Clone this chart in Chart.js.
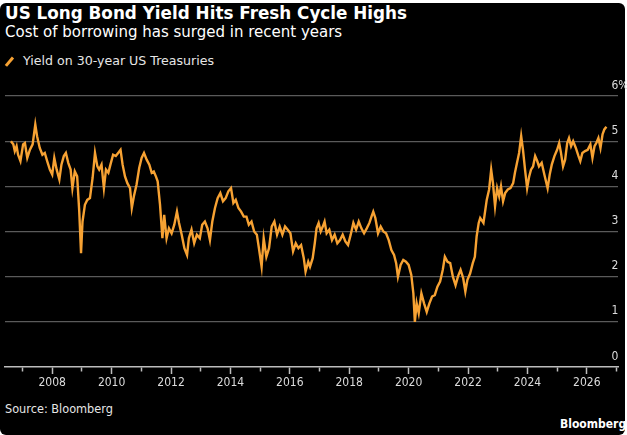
<!DOCTYPE html>
<html>
<head>
<meta charset="utf-8">
<title>US Long Bond Yield Hits Fresh Cycle Highs</title>
<script src="https://cdn.jsdelivr.net/npm/chart.js@4.4.1/dist/chart.umd.min.js"></script>
<style>
  html, body { margin: 0; padding: 0; background: #fff; width: 627px; height: 435px; overflow: hidden; }
  body { position: relative; font-family: "DejaVu Sans", sans-serif; }
  #card { position: absolute; left: 0; top: 3px; width: 625px; height: 432px; background: #000; border-radius: 6px; }
  .txt { position: absolute; white-space: nowrap; }
  #title { left: 5px; top: 3px; font-size: 16.8px; font-weight: bold; color: #fff; }
  #subtitle { left: 5px; top: 23px; font-size: 15px; color: #fff; }
  #legend { left: 23px; top: 53px; font-size: 12.6px; color: #e6e6e6; }
  #swatch { position: absolute; left: 8px; top: 56px; width: 2.6px; height: 11px; background: #f7a233; transform: rotate(40deg); }
  #source { left: 5px; top: 401px; font-size: 12.6px; color: #e6e6e6; font-family: "DejaVu Sans Condensed", "DejaVu Sans", sans-serif; }
  #brand { left: 560px; top: 417px; font-size: 12px; font-weight: bold; color: #fff; font-family: "DejaVu Sans Condensed", "DejaVu Sans", sans-serif; }
  #c { position: absolute; left: 0; top: 0; }
</style>
</head>
<body>
<div id="card"></div>
<div class="txt" id="title">US Long Bond Yield Hits Fresh Cycle Highs</div>
<div class="txt" id="subtitle">Cost of borrowing has surged in recent years</div>
<div id="swatch"></div>
<div class="txt" id="legend">Yield on 30-year US Treasuries</div>
<div class="txt" id="source">Source: Bloomberg</div>
<div class="txt" id="brand">Bloomberg</div>
<canvas id="c" width="627" height="435" style="width:627px;height:435px"></canvas>
<script>
// dates as decimal years
var years = [
  2006.61, 2006.69, 2006.74, 2006.80, 2006.85, 2006.93, 2007.02, 2007.08, 2007.16, 2007.25,
  2007.34, 2007.43, 2007.49, 2007.58, 2007.67, 2007.75, 2007.83, 2007.92, 2008.00, 2008.07,
  2008.15, 2008.24, 2008.31, 2008.39, 2008.46, 2008.54, 2008.62, 2008.68, 2008.76, 2008.84,
  2008.91, 2008.97, 2009.02, 2009.10, 2009.18, 2009.27, 2009.36, 2009.44, 2009.52, 2009.58,
  2009.66, 2009.74, 2009.81, 2009.89, 2009.96, 2010.05, 2010.14, 2010.22, 2010.30, 2010.37,
  2010.45, 2010.53, 2010.62, 2010.68, 2010.75, 2010.84, 2010.93, 2011.01, 2011.09, 2011.18,
  2011.27, 2011.35, 2011.42, 2011.49, 2011.55, 2011.63, 2011.71, 2011.77, 2011.85, 2011.93,
  2012.02, 2012.11, 2012.20, 2012.27, 2012.36, 2012.45, 2012.54, 2012.60, 2012.69, 2012.78,
  2012.87, 2012.97, 2013.05, 2013.14, 2013.23, 2013.31, 2013.39, 2013.48, 2013.57, 2013.66,
  2013.75, 2013.84, 2013.93, 2014.02, 2014.10, 2014.18, 2014.27, 2014.36, 2014.45, 2014.54,
  2014.62, 2014.71, 2014.80, 2014.89, 2014.96, 2015.05, 2015.12, 2015.21, 2015.30, 2015.39,
  2015.48, 2015.57, 2015.66, 2015.75, 2015.84, 2015.93, 2016.02, 2016.11, 2016.20, 2016.29,
  2016.38, 2016.47, 2016.53, 2016.62, 2016.68, 2016.77, 2016.84, 2016.90, 2016.97, 2017.04,
  2017.11, 2017.17, 2017.24, 2017.33, 2017.42, 2017.51, 2017.60, 2017.69, 2017.78, 2017.87,
  2017.96, 2018.05, 2018.14, 2018.23, 2018.32, 2018.41, 2018.50, 2018.59, 2018.68, 2018.75,
  2018.81, 2018.88, 2018.97, 2019.06, 2019.15, 2019.24, 2019.33, 2019.42, 2019.51, 2019.58,
  2019.64, 2019.73, 2019.82, 2019.91, 2020.00, 2020.09, 2020.16, 2020.21, 2020.27, 2020.34,
  2020.43, 2020.52, 2020.61, 2020.70, 2020.79, 2020.88, 2020.97, 2021.06, 2021.15, 2021.22,
  2021.31, 2021.40, 2021.49, 2021.58, 2021.66, 2021.75, 2021.84, 2021.91, 2021.98, 2022.07,
  2022.16, 2022.23, 2022.29, 2022.36, 2022.41, 2022.52, 2022.63, 2022.71, 2022.78, 2022.84,
  2022.91, 2022.98, 2023.05, 2023.11, 2023.18, 2023.25, 2023.34, 2023.43, 2023.52, 2023.58,
  2023.65, 2023.72, 2023.79, 2023.85, 2023.92, 2023.99, 2024.06, 2024.12, 2024.19, 2024.26,
  2024.33, 2024.39, 2024.48, 2024.57, 2024.64, 2024.68, 2024.75, 2024.82, 2024.91, 2025.00,
  2025.07, 2025.13, 2025.20, 2025.27, 2025.34, 2025.40, 2025.47, 2025.54, 2025.63, 2025.72,
  2025.78, 2025.85, 2025.94, 2026.03, 2026.12, 2026.19, 2026.26, 2026.32, 2026.39, 2026.46,
  2026.53, 2026.59, 2026.66
];
var yields = [
  5.00, 4.93, 4.78, 4.89, 4.70, 4.56, 4.93, 4.96, 4.63, 4.81,
  4.93, 5.37, 5.11, 4.85, 4.70, 4.74, 4.56, 4.37, 4.26, 4.63,
  4.37, 4.15, 4.48, 4.67, 4.74, 4.52, 4.37, 3.96, 4.33, 4.22,
  3.44, 2.52, 3.22, 3.59, 3.70, 3.74, 4.19, 4.74, 4.44, 4.37,
  4.48, 3.96, 4.37, 4.30, 4.48, 4.70, 4.67, 4.74, 4.81, 4.48,
  4.22, 4.07, 3.96, 3.52, 3.78, 4.04, 4.41, 4.63, 4.74, 4.59,
  4.48, 4.30, 4.33, 4.22, 4.11, 3.59, 2.85, 3.37, 2.85, 3.07,
  2.96, 3.15, 3.44, 3.19, 2.93, 2.63, 2.48, 2.85, 3.04, 2.74,
  2.93, 2.85, 3.15, 3.22, 3.07, 2.81, 3.22, 3.52, 3.74, 3.85,
  3.67, 3.74, 3.89, 3.96, 3.63, 3.70, 3.52, 3.44, 3.33, 3.33,
  3.15, 3.22, 3.00, 2.93, 2.63, 2.22, 2.85, 2.44, 2.63, 3.11,
  3.22, 2.93, 3.11, 2.93, 3.11, 3.04, 2.96, 2.56, 2.74, 2.63,
  2.70, 2.41, 2.11, 2.33, 2.22, 2.41, 2.74, 3.07, 3.19, 3.00,
  3.11, 3.22, 2.96, 3.04, 2.81, 2.93, 2.74, 2.81, 2.93, 2.78,
  2.70, 2.93, 3.19, 3.04, 3.22, 3.07, 2.96, 3.07, 3.19, 3.33,
  3.44, 3.30, 2.96, 3.11, 3.00, 2.96, 2.81, 2.59, 2.48, 2.30,
  2.00, 2.26, 2.37, 2.33, 2.26, 2.04, 1.63, 1.00, 1.41, 1.19,
  1.63, 1.41, 1.22, 1.41, 1.56, 1.59, 1.78, 1.89, 2.15, 2.44,
  2.33, 2.30, 2.00, 1.81, 2.00, 2.15, 1.96, 1.67, 1.93, 2.07,
  2.30, 2.44, 2.89, 3.19, 3.30, 3.19, 3.70, 3.93, 4.37, 4.07,
  3.56, 3.96, 3.78, 4.00, 3.67, 3.85, 3.93, 3.96, 4.07, 4.30,
  4.52, 4.74, 5.11, 4.81, 4.37, 3.96, 4.22, 4.37, 4.44, 4.67,
  4.56, 4.44, 4.52, 4.26, 4.07, 3.96, 4.26, 4.48, 4.67, 4.81,
  4.96, 4.74, 4.44, 4.59, 4.96, 5.07, 4.89, 5.00, 4.85, 4.67,
  4.56, 4.74, 4.78, 4.81, 4.93, 4.63, 4.89, 4.96, 5.07, 4.85,
  5.15, 5.26, 5.32
];
var yTicks = [0, 1, 2, 3, 4, 5, 6];

var orange = '#f7a233';
var fontFamily = '"DejaVu Sans Condensed", "DejaVu Sans", sans-serif';

// y labels sit above each gridline at the right edge, like the Bloomberg style
const rightLabels = {
  id: 'rightLabels',
  afterDraw(chart) {
    var ctx = chart.ctx, y = chart.scales.y;
    ctx.save();
    ctx.font = '12px ' + fontFamily;
    ctx.fillStyle = '#dcdcdc';
    ctx.textAlign = 'left';
    ctx.textBaseline = 'middle';
    yTicks.forEach(function(v) {
      ctx.fillText(v === 6 ? '6%' : String(v), chart.chartArea.right - 6.5, y.getPixelForValue(v) - 10.5);
    });
    ctx.restore();
  }
};

new Chart(document.getElementById('c'), {
  type: 'line',
  data: {
    datasets: [{
      label: 'Yield on 30-year US Treasuries',
      data: years.map(function(x, i) { return {x: x, y: yields[i]}; }),
      borderColor: orange,
      borderWidth: 2.4,
      pointRadius: 0,
      tension: 0,
      fill: false
    }]
  },
  options: {
    responsive: false,
    animation: false,
    layout: { padding: { left: 5, right: 9, top: 96, bottom: 42.6 } },
    plugins: { legend: { display: false }, tooltip: { enabled: false } },
    scales: {
      x: {
        type: 'linear',
        min: 2006.41,
        max: 2027.05,
        border: { display: true, color: '#bdbdbd', width: 1.5 },
        grid: {
          drawOnChartArea: false,
          drawTicks: true,
          tickLength: 7,
          tickColor: '#bdbdbd',
          tickWidth: 1.5,
          tickBorderDash: function(c) { return c.tick && c.tick.value % 2 !== 0 ? [4, 20] : []; }
        },
        ticks: {
          stepSize: 1,
          includeBounds: false,
          autoSkip: false,
          maxTicksLimit: 40,
          maxRotation: 0,
          padding: 2,
          color: '#dcdcdc',
          font: { family: fontFamily, size: 12 },
          callback: function(v) { return v % 2 === 0 ? String(v) : ''; }
        }
      },
      y: {
        position: 'right',
        min: 0,
        max: 6,
        border: { display: false },
        grid: {
          drawTicks: false,
          color: function(c) { return c.tick && c.tick.value === 0 ? 'rgba(0,0,0,0)' : '#5a5a5a'; },
          lineWidth: 1.3
        },
        ticks: { display: false, stepSize: 1 }
      }
    }
  },
  plugins: [rightLabels]
});
</script>
</body>
</html>
